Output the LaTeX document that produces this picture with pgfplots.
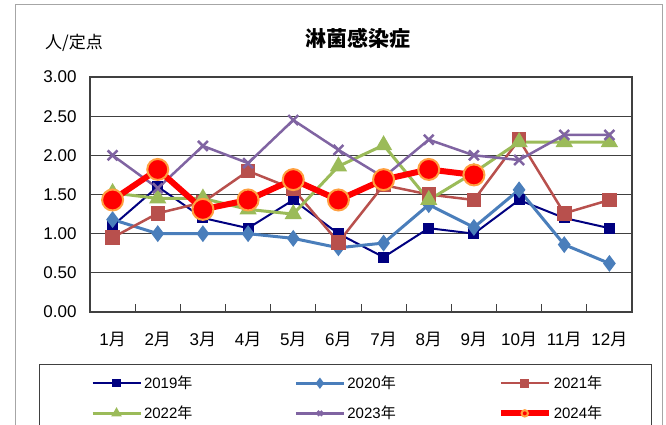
\documentclass[border=0pt]{standalone}
\usepackage{pgfplots}
\pgfplotsset{compat=1.18}
\usepackage{fontspec}
\setmainfont{Liberation Sans}
\newfontfamily\cjk{Noto Sans CJK JP}
\definecolor{c19}{HTML}{000080}
\definecolor{c20}{HTML}{4A7EBB}
\definecolor{c21}{HTML}{B8504D}
\definecolor{c22}{HTML}{9BBB59}
\definecolor{c23}{HTML}{8064A2}
\definecolor{c24}{HTML}{FF0000}
\definecolor{c24o}{HTML}{FFA040}
\definecolor{frame}{HTML}{404040}
\begin{document}
\begin{tikzpicture}
\path[use as bounding box] (0pt,0pt) rectangle (666pt,425pt);
\draw[gray!70,line width=1pt] (15pt,420pt) rectangle (662pt,-10pt);
\draw[frame,line width=1pt] (39pt,60pt) rectangle (651pt,-10pt);
\node[font=\cjk\bfseries\fontsize{21}{24}\selectfont] at (358pt,387pt) {淋菌感染症};
\node[font=\cjk\fontsize{17}{20}\selectfont] at (74pt,382pt) {人/定点};
\begin{axis}[
  at={(90pt,113pt)}, anchor=south west,
  width=542pt, height=235pt, scale only axis,
  xmin=0.5, xmax=12.5, ymin=0, ymax=3,
  xtick={1,...,12},
  xticklabels={1{\cjk 月},2{\cjk 月},3{\cjk 月},4{\cjk 月},5{\cjk 月},6{\cjk 月},7{\cjk 月},8{\cjk 月},9{\cjk 月},10{\cjk 月},11{\cjk 月},12{\cjk 月}},
  minor xtick={1.5,2.5,...,11.5},
  major x tick style={draw=none},
  minor x tick style={frame,line width=1pt},
  minor tick length=8pt,
  xtick align=inside,
  xtick pos=bottom,
  ytick={0,0.5,...,3},
  ytick style={draw=none},
  ymajorgrids,
  grid style={frame,line width=1.3pt},
  axis line style={frame,line width=1.5pt},
  /pgf/number format/assume math mode=true,
  yticklabel style={/pgf/number format/fixed,/pgf/number format/fixed zerofill,/pgf/number format/precision=2},
  ticklabel style={font=\fontsize{17}{20}\selectfont},
  xticklabel style={yshift=-17pt},
  yticklabel style={xshift=-10pt},
  legend style={at={(-0.004,-0.255)}, anchor=north west, draw=none, fill=none,
    font=\fontsize{15}{18}\selectfont, legend columns=3,
    /tikz/every even column/.append style={column sep=100pt},
    row sep=12pt},
  legend cell align=left,
  legend image code/.code={\draw[mark repeat=2,mark phase=2,#1,mark size=3.2pt] plot coordinates {(0pt,0pt) (24pt,0pt) (48pt,0pt)};},
]
\addplot[c19,line width=2pt,mark=square*,mark size=4.5pt,mark options={fill=c19,solid}] coordinates {
(1,1.10)(2,1.60)(3,1.20)(4,1.07)(5,1.43)(6,1.00)(7,0.70)(8,1.07)(9,1.00)(10,1.43)(11,1.20)(12,1.07)};
\addlegendentry{2019{\cjk 年}}
\addplot[c20,line width=3pt,mark=diamond*,mark size=6pt,mark options={fill=c20,solid}] coordinates {
(1,1.18)(2,1.00)(3,1.00)(4,1.00)(5,0.94)(6,0.82)(7,0.88)(8,1.37)(9,1.08)(10,1.56)(11,0.86)(12,0.62)};
\addlegendentry{2020{\cjk 年}}
\addplot[c21,line width=2.5pt,mark=square*,mark size=6pt,mark options={fill=c21,solid}] coordinates {
(1,0.95)(2,1.26)(3,1.40)(4,1.80)(5,1.57)(6,0.89)(7,1.62)(8,1.50)(9,1.43)(10,2.20)(11,1.26)(12,1.43)};
\addlegendentry{2021{\cjk 年}}
\addplot[c22,line width=3pt,mark=triangle*,mark size=7pt,mark options={fill=c22,solid}] coordinates {
(1,1.52)(2,1.45)(3,1.45)(4,1.31)(5,1.25)(6,1.86)(7,2.13)(8,1.43)(9,1.78)(10,2.17)(11,2.17)(12,2.17)};
\addlegendentry{2022{\cjk 年}}
\addplot[c23,line width=2.5pt,mark=x,mark size=7pt,mark options={solid,line width=2.5pt}] coordinates {
(1,2.00)(2,1.58)(3,2.12)(4,1.90)(5,2.45)(6,2.07)(7,1.72)(8,2.20)(9,2.00)(10,1.94)(11,2.26)(12,2.26)};
\addlegendentry{2023{\cjk 年}}
\addplot[c24,line width=6pt,mark=*,mark size=10.5pt,mark options={fill=c24,draw=c24o,line width=2pt,solid}] coordinates {
(1,1.43)(2,1.82)(3,1.31)(4,1.43)(5,1.69)(6,1.43)(7,1.69)(8,1.82)(9,1.75)};
\addlegendentry{2024{\cjk 年}}
\end{axis}
\end{tikzpicture}
\end{document}
